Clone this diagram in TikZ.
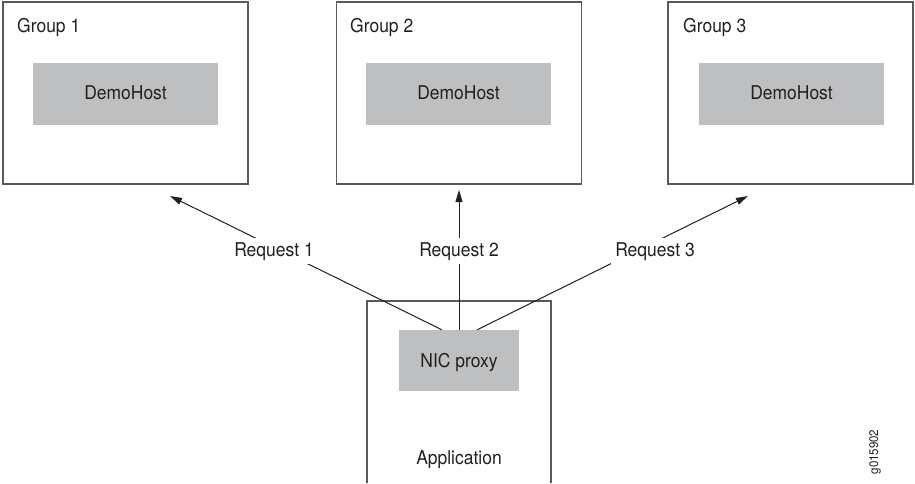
\documentclass[tikz,border=0pt]{standalone}
\usepackage{fontspec}
\setmainfont[FakeStretch=0.92]{TeX Gyre Heros}
\usetikzlibrary{arrows.meta,calc}
\definecolor{ink}{HTML}{231F20}
\definecolor{hostgray}{HTML}{BEBFC1}
\definecolor{edge}{HTML}{58595B}
\tikzset{
  grpbox/.style={draw=edge, line width=1.2pt, minimum width=245pt, minimum height=182pt, inner sep=0pt},
  hostbox/.style={fill=hostgray, minimum width=185pt, minimum height=62pt, inner sep=0pt},
  txt/.style={text=ink, font=\fontsize{19}{22}\selectfont, inner sep=0pt},
  reqlabel/.style={txt, fill=white, inner xsep=4pt, inner ysep=4pt},
  conn/.style={draw=ink, line width=1pt, -{Triangle[length=12pt,width=7pt]}},
}
\begin{document}
\begin{tikzpicture}[x=1pt,y=-1pt]
\useasboundingbox (0,0) rectangle (915,483);
% group boxes
\node[grpbox] (g1) at (125.5,93) {};
\node[grpbox] (g2) at (459,93) {};
\node[grpbox] (g3) at (790.5,93) {};
\node[txt, anchor=base west] (g1t) at (17,32) {Group 1};
\node[txt, anchor=base west] (g2t) at (350,32) {Group 2};
\node[txt, anchor=base west] (g3t) at (683,32) {Group 3};
% host boxes
\node[hostbox] (h1) at (125.5,94) {};
\node[hostbox] (h2) at (458.5,94) {};
\node[hostbox] (h3) at (791.5,94) {};
\node[txt, anchor=base] (h1t) at (125.5,99) {DemoHost};
\node[txt, anchor=base] (h2t) at (458.5,99) {DemoHost};
\node[txt, anchor=base] (h3t) at (791.5,99) {DemoHost};
% application box (open at the bottom)
\draw[draw=edge, line width=1.2pt] (367,483) -- (367,301) -- (551,301) -- (551,483);
\node[hostbox, minimum width=120pt, minimum height=61pt] (nic) at (459,360.5) {};
\node[txt, anchor=base] (nict) at (459,367) {NIC proxy};
\node[txt, anchor=base] (app) at (459,464) {Application};
% arrow targets
\coordinate (t1) at (170,196);
\coordinate (t2) at (459,190);
\coordinate (t3) at (748,196);
\draw[conn] ($(nic.north)+(-17,0)$) -- (t1);
\draw[conn] (nic.north) -- (t2);
\draw[conn] ($(nic.north)+(18,0)$) -- (t3);
% labels
\node[reqlabel, anchor=base] (r1) at (274,256) {Request 1};
\node[reqlabel, anchor=base] (r2) at (459,256) {Request 2};
\node[reqlabel, anchor=base] (r3) at (655,256) {Request 3};
% figure id
\node[text=ink, font=\fontsize{12.5}{14}\selectfont, rotate=90, inner sep=0pt] (fid) at (875,452) {g015902};
\end{tikzpicture}
\end{document}
